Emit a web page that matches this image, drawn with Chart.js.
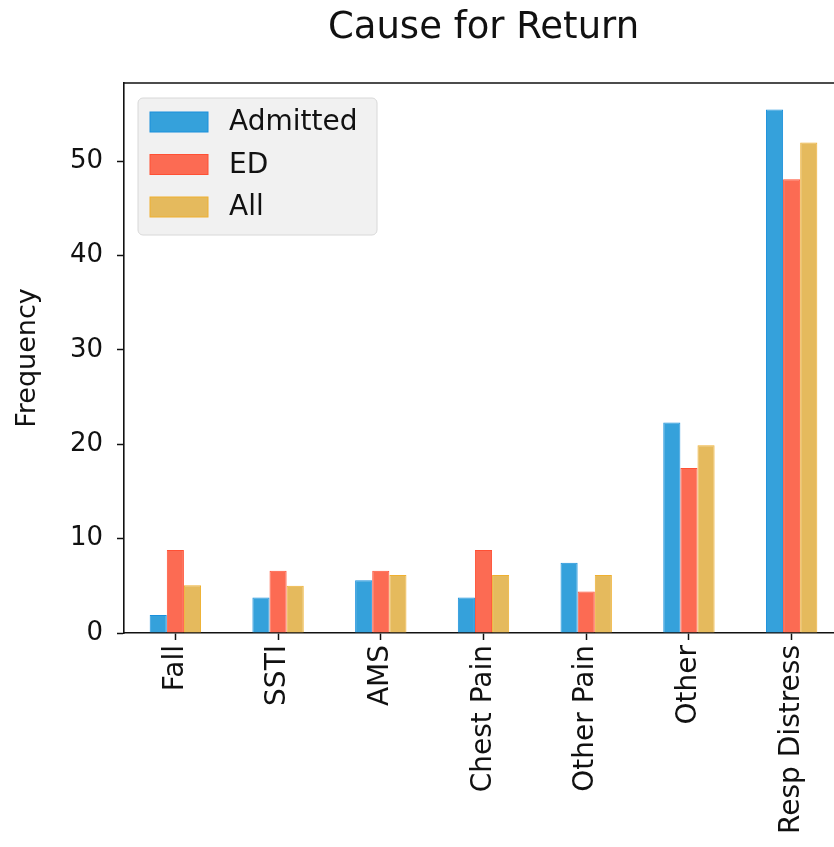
<!DOCTYPE html>
<html>
<head>
<meta charset="utf-8">
<title>Cause for Return</title>
<script src="https://cdn.jsdelivr.net/npm/chart.js@4/dist/chart.umd.min.js"></script>
<style>
  html, body { margin: 0; padding: 0; background: #fff; overflow: hidden; }
  canvas { display: block; }
</style>
</head>
<body>
<canvas id="returnChart" width="834" height="847"></canvas>
<script>
// Data
const categories = ['Fall', 'SSTI', 'AMS', 'Chest Pain', 'Other Pain', 'Other', 'Resp Distress'];
const admitted = [1.9, 3.75, 5.6, 3.75, 7.45, 22.3, 55.5];
const ed = [8.8, 6.6, 6.6, 8.8, 4.4, 17.5, 48.1];
const all = [5.05, 5.0, 6.15, 6.15, 6.15, 19.9, 52.0];
const yTicks = [0, 10, 20, 30, 40, 50];

const FONT = "'DejaVu Sans', sans-serif";
const TITLE = 'Cause for Return';
const AXES_RIGHT = 843; // the axes run past the right edge of the canvas, as in the picture

// Stretch the plot area past the canvas edge once the layout is done
const overflowRight = {
    id: 'overflowRight',
    afterLayout(chart) {
        const a = chart.chartArea;
        a.right = AXES_RIGHT;
        a.width = a.right - a.left;
        const x = chart.scales.x;
        x.right = AXES_RIGHT;
        x.width = x.right - x.left;
        x.configure();
    }
};

// Top spine and the title, centred over the axes
const framePlugin = {
    id: 'frame',
    afterDraw(chart) {
        const { ctx, chartArea: a } = chart;
        ctx.save();
        ctx.strokeStyle = '#111';
        ctx.lineWidth = 1.6;
        ctx.beginPath();
        ctx.moveTo(a.left, a.top);
        ctx.lineTo(a.right, a.top);
        ctx.stroke();
        ctx.fillStyle = '#111';
        ctx.font = '37px ' + FONT;
        ctx.textAlign = 'center';
        ctx.textBaseline = 'middle';
        ctx.fillText(TITLE, (a.left + a.right) / 2, 28);
        ctx.restore();
    }
};

// Legend box in the upper left of the axes, matplotlib style
const boxLegend = {
    id: 'boxLegend',
    afterDraw(chart) {
        const { ctx, chartArea: a } = chart;
        const x = a.left + 14, y = a.top + 15, w = 239, h = 137;
        ctx.save();
        ctx.beginPath();
        ctx.roundRect(x, y, w, h, 5);
        ctx.fillStyle = 'rgba(240,240,240,0.9)';
        ctx.fill();
        ctx.strokeStyle = '#d8d8d8';
        ctx.lineWidth = 1;
        ctx.stroke();
        ctx.font = '28px ' + FONT;
        ctx.textBaseline = 'middle';
        chart.data.datasets.forEach((ds, i) => {
            const cy = y + 24 + i * 42.5;
            ctx.fillStyle = ds.backgroundColor;
            ctx.fillRect(x + 12, cy - 10, 58, 20);
            ctx.strokeStyle = ds.borderColor;
            ctx.strokeRect(x + 12, cy - 10, 58, 20);
            ctx.fillStyle = '#111';
            ctx.fillText(ds.label, x + 91, cy + 1);
        });
        ctx.restore();
    }
};

new Chart(document.getElementById('returnChart'), {
    type: 'bar',
    data: {
        labels: categories,
        datasets: [{
            label: 'Admitted',
            data: admitted,
            backgroundColor: '#35a1db',
            borderColor: '#1a90dc',
            borderWidth: 1
        }, {
            label: 'ED',
            data: ed,
            backgroundColor: '#fc6b53',
            borderColor: '#ff5034',
            borderWidth: 1
        }, {
            label: 'All',
            data: all,
            backgroundColor: '#e5ba5d',
            borderColor: '#efb030',
            borderWidth: 1
        }]
    },
    options: {
        responsive: false,
        animation: false,
        devicePixelRatio: 1,
        categoryPercentage: 0.5,
        barPercentage: 1.0,
        layout: { padding: { left: 0, right: 0, top: 83, bottom: 0 } },
        plugins: {
            legend: { display: false },
            tooltip: { enabled: false },
            title: { display: false }
        },
        scales: {
            x: {
                offset: true,
                grid: {
                    display: true,
                    offset: false,
                    drawOnChartArea: false,
                    drawTicks: true,
                    tickLength: 7,
                    tickWidth: 1.5,
                    tickColor: '#111'
                },
                border: { display: true, color: '#111', width: 1.6 },
                ticks: {
                    color: '#111',
                    font: { family: FONT, size: 28 },
                    minRotation: 90,
                    maxRotation: 90,
                    padding: 5,
                    autoSkip: false
                },
                afterFit(scale) { scale.height = 214; }
            },
            y: {
                min: 0,
                max: 58.3,
                grid: {
                    display: true,
                    drawOnChartArea: false,
                    drawTicks: true,
                    tickLength: 7,
                    tickWidth: 1.5,
                    tickColor: '#111'
                },
                border: { display: true, color: '#111', width: 1.6 },
                ticks: {
                    stepSize: 10,
                    color: '#111',
                    font: { family: FONT, size: 26 },
                    padding: 14
                },
                afterBuildTicks(scale) {
                    scale.ticks = yTicks.map(v => ({ value: v }));
                },
                title: {
                    display: true,
                    text: 'Frequency',
                    color: '#111',
                    font: { family: FONT, size: 27 },
                    padding: { top: 12, bottom: 0 }
                },
                afterFit(scale) { scale.width = 124; }
            }
        }
    },
    plugins: [overflowRight, framePlugin, boxLegend]
});
</script>
</body>
</html>
